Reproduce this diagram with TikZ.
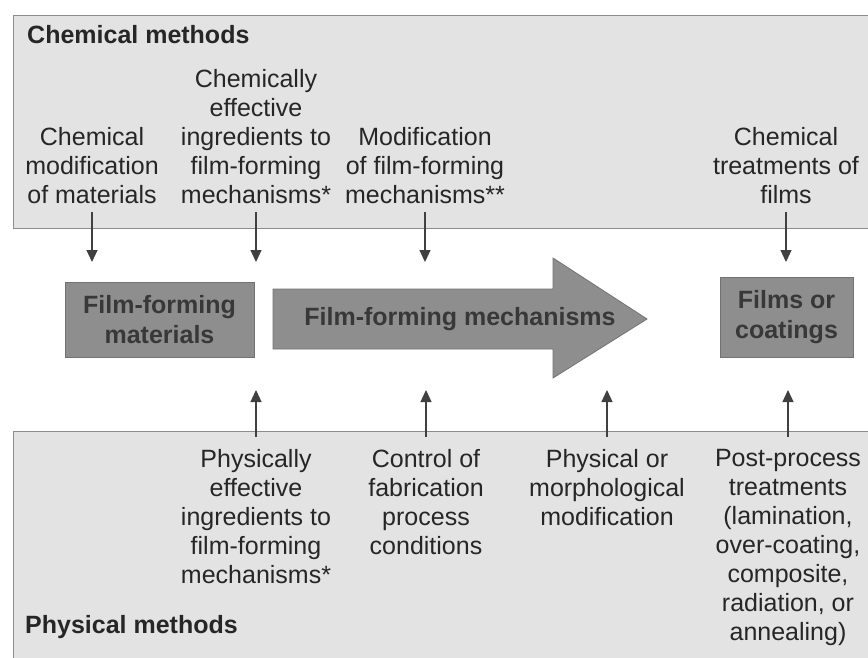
\documentclass[tikz,border=0pt]{standalone}
\usepackage{fontspec}
\setmainfont{Liberation Sans}
\usetikzlibrary{arrows.meta}
\definecolor{panelfill}{HTML}{E3E3E3}
\definecolor{paneldraw}{HTML}{8C8C8C}
\definecolor{boxfill}{HTML}{8E8E8E}
\definecolor{boxtext}{HTML}{383838}
\definecolor{arrowcol}{HTML}{404040}
\begin{document}
\begin{tikzpicture}[x=1pt,y=-1pt,
  panel/.style={fill=panelfill,draw=paneldraw,line width=1pt},
  lbl/.style={align=center,inner sep=0pt,font=\fontsize{25}{29}\selectfont,text=black!85},
  headlbl/.style={inner sep=0pt,font=\bfseries\fontsize{25}{30}\selectfont,text=black!85},
  gbox/.style={fill=boxfill,draw=boxfill!80!black,line width=0.8pt,align=center,
    font=\bfseries\fontsize{25}{30}\selectfont,text=boxtext,inner sep=0pt},
  bigarrow/.style={fill=boxfill,draw=boxfill!80!black,line width=0.8pt},
  arr/.style={draw=arrowcol,line width=1.2pt,-{Triangle[width=11pt,length=12pt]}}]

\useasboundingbox (0,0) rectangle (868,657);

% panels
\path[panel] (13,15) rectangle (885,228);
\path[panel] (13,431) rectangle (885,670);

% panel titles
\node[headlbl,anchor=base west] (chem) at (27,43) {Chemical methods};
\node[headlbl,anchor=base west] (phys) at (25,633) {Physical methods};

% central row
\node[gbox,minimum width=189pt,minimum height=75pt] (mat) at (159.5,319.5) {Film-forming\\materials};
\path[bigarrow] (273,289) -- (553,289) -- (553,258) -- (647,319) -- (553,378) -- (553,349) -- (273,349) -- cycle;
\node[font=\bfseries\fontsize{25}{30}\selectfont,text=boxtext,inner sep=0pt] (mech) at (460,319) {Film-forming mechanisms};
\node[gbox,minimum width=133pt,minimum height=80pt] (films) at (786.5,317) {Films or\\coatings};

% chemical methods texts
\node[lbl,anchor=south] (c1) at (92,204) {Chemical\\modification\\of materials};
\node[lbl,anchor=south] (c2) at (256,204) {Chemically\\effective\\ingredients to\\film-forming\\mechanisms*};
\node[lbl,anchor=south] (c3) at (425,204) {Modification\\of film-forming\\mechanisms**};
\node[lbl,anchor=south] (c4) at (786,204) {Chemical\\treatments of\\films};

% physical methods texts
\node[lbl,anchor=north] (p1) at (256,449) {Physically\\effective\\ingredients to\\film-forming\\mechanisms*};
\node[lbl,anchor=north] (p2) at (426,449) {Control of\\fabrication\\process\\conditions};
\node[lbl,anchor=north] (p3) at (607,449) {Physical or\\morphological\\modification};
\node[lbl,anchor=north] (p4) at (788,449) {Post-process\\treatments\\(lamination,\\over-coating,\\composite,\\radiation, or\\annealing)};

% arrow end levels
\coordinate (dt) at (0,262);
\coordinate (ut) at (0,390);

\draw[arr] ([yshift=-8pt]c1.south) -- (c1.south |- dt);
\draw[arr] ([yshift=-8pt]c2.south) -- (c2.south |- dt);
\draw[arr] ([yshift=-8pt]c3.south) -- (c3.south |- dt);
\draw[arr] ([yshift=-8pt]c4.south) -- (c4.south |- dt);

\draw[arr] ([yshift=12pt]p1.north) -- (p1.north |- ut);
\draw[arr] ([yshift=12pt]p2.north) -- (p2.north |- ut);
\draw[arr] ([yshift=12pt]p3.north) -- (p3.north |- ut);
\draw[arr] ([yshift=12pt]p4.north) -- (p4.north |- ut);
\end{tikzpicture}
\end{document}
